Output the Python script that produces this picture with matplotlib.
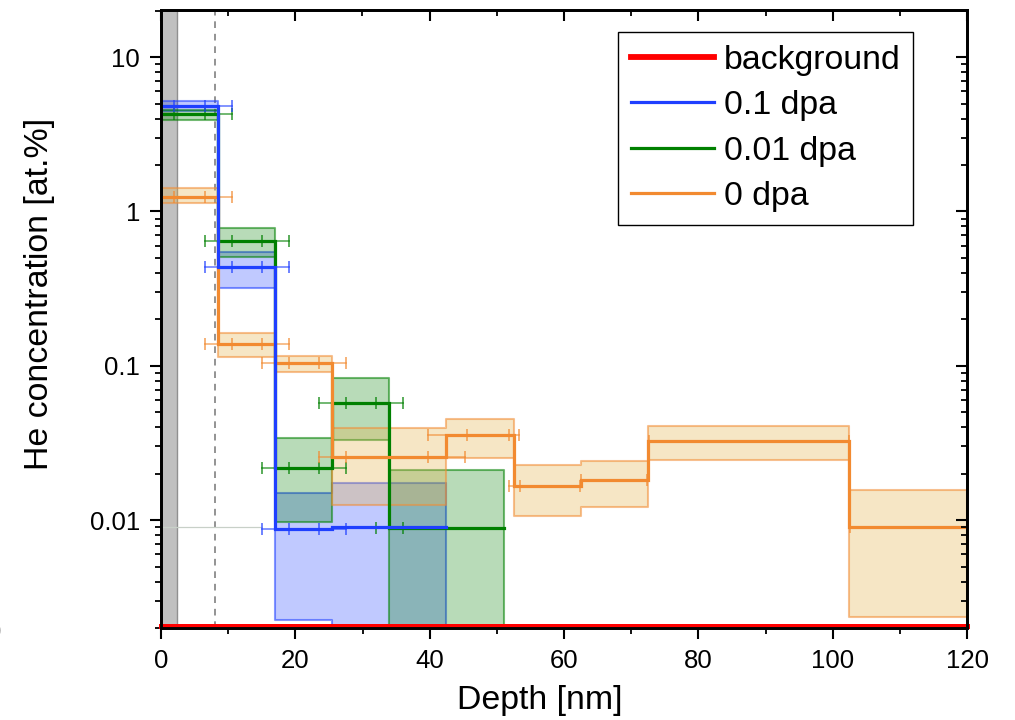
import matplotlib
matplotlib.use("Agg")
import matplotlib.pyplot as plt
from matplotlib.ticker import FixedLocator, FixedFormatter, LogLocator, NullFormatter, MultipleLocator
from matplotlib.lines import Line2D
import numpy as np

plt.rcParams['font.family'] = ['Liberation Sans', 'DejaVu Sans']

# ---------------- data ----------------
# 0.1 dpa (blue)
edges_b = [0, 8.5, 17, 25.5, 42.5]
val_b = [4.85, 0.438, 0.0087, 0.0090]
lo_b = [4.49, 0.320, 0.00225, 0.0015]
hi_b = [5.18, 0.547, 0.0150, 0.0175]

# 0.01 dpa (green)
edges_g = [0, 8.5, 17, 25.5, 34, 51]
val_g = [4.27, 0.642, 0.0219, 0.0578, 0.00895]
lo_g = [3.91, 0.508, 0.0097, 0.033, 0.0015]
hi_g = [4.55, 0.776, 0.0341, 0.0835, 0.021]

# 0 dpa (orange)
edges_o = [0, 8.5, 17, 25.5, 42.5, 52.5, 62.5, 72.5, 102.5, 120]
val_o = [1.25, 0.138, 0.1035, 0.0257, 0.0355, 0.0166, 0.0181, 0.0328, 0.0090]
lo_o = [1.14, 0.114, 0.0913, 0.0125, 0.0251, 0.01064, 0.0122, 0.0247, 0.00236]
hi_o = [1.41, 0.162, 0.116, 0.0393, 0.0455, 0.0227, 0.0240, 0.0410, 0.0156]

# horizontal depth-resolution bars: (concentration, cap positions)
err_b = [(4.85, [-2, 2.0, 6.5, 10.5]),
         (0.438, [6.5, 10.5, 15.0, 19.0]),
         (0.0087, [15.0, 19.0, 23.5, 27.5])]
err_g = [(4.27, [-2, 2.0, 6.5, 10.5]),
         (0.642, [6.5, 10.5, 15.0, 19.0]),
         (0.0219, [15.0, 19.0, 23.5, 27.5]),
         (0.0578, [23.5, 27.5, 32.0, 36.0]),
         (0.00895, [32.0, 36.0])]
err_o = [(1.25, [-2, 2.0, 6.5, 10.5]),
         (0.138, [6.5, 10.5, 15.0, 19.0]),
         (0.1035, [15.0, 19.0, 23.5, 27.5]),
         (0.0257, [23.5, 27.6, 39.8, 45.3]),
         (0.0355, [39.8, 45.5, 51.8, 53.3]),
         (0.0166, [51.8, 53.4, 62.4]),
         (0.0181, [62.6, 72.4]),
         (0.0328, [72.6, 102.4]),
         (0.0090, [102.6])]

background_level = 0.00205
oxide_depth = 2.4
marker_depth = 8.0
detect_level = 0.009
detect_end = 15.0

xticks = [0, 20, 40, 60, 80, 100, 120]
yticks = [0.01, 0.1, 1, 10]
yticklabels = ['0.01', '0.1', '1', '10']
labels = ['background', '0.1 dpa', '0.01 dpa', '0 dpa']

C_B = '#1f3fff'
C_G = '#008000'
C_O = '#f28a30'
C_R = '#ff0000'
FS = 24.4

# ---------------- figure ----------------
fig = plt.figure(figsize=(10.15, 7.2), dpi=100)
ax = fig.add_axes([161/1015, 1-628/720, (967-161)/1015, (628-10)/720])
ax.set_yscale('log')
ax.set_xlim(0, 120)
ax.set_ylim(0.002, 20.2)

ax.axvspan(0, oxide_depth, facecolor='#c0c0c0', edgecolor='#909090', lw=1.0, zorder=0.5)
ax.axvline(marker_depth, color='#808080', lw=1.2, ls=(0, (4, 3.5)), zorder=0.6)
ax.hlines(detect_level, 0, detect_end, color='#c8d0c8', lw=0.9, zorder=0.7)


def band(edges, lo, hi, color, alpha, ec, z):
    lo2 = list(lo) + [lo[-1]]
    hi2 = list(hi) + [hi[-1]]
    ax.fill_between(edges, lo2, hi2, step='post', facecolor=color, alpha=alpha,
                    edgecolor='none', zorder=z)
    ax.fill_between(edges, lo2, hi2, step='post', facecolor='none',
                    edgecolor=ec, lw=1.5, zorder=z)


band(edges_b, lo_b, hi_b, '#1f3fff', 0.28, (0.12, 0.25, 1.0, 0.55), 1.0)
band(edges_g, lo_g, hi_g, '#008000', 0.28, (0.0, 0.5, 0.0, 0.55), 1.1)
band(edges_o, lo_o, hi_o, '#e6b450', 0.33, (0.95, 0.55, 0.2, 0.55), 1.2)


def steps(edges, vals, color, z):
    v2 = list(vals) + [vals[-1]]
    ax.step(edges, v2, where='post', color=color, lw=2.3, zorder=z, solid_joinstyle='miter')


def errs(data, color, z):
    for y, xs in data:
        ax.plot([min(xs), max(xs)], [y, y], color=color, lw=1.3, alpha=0.6, zorder=z)
        ax.plot(xs, [y] * len(xs), ls='none', marker='|', ms=9, mew=1.3,
                color=color, alpha=0.7, zorder=z)


errs(err_g, C_G, 2.0)
errs(err_o, C_O, 2.1)
errs(err_b, C_B, 2.2)
steps(edges_g, val_g, C_G, 3.0)
steps(edges_o, val_o, C_O, 3.1)
steps(edges_b, val_b, C_B, 3.2)

ax.plot([0, 120], [background_level] * 2, color=C_R, lw=3.6, zorder=3.5, clip_on=False)

handles = [Line2D([], [], color=C_R, lw=4.2),
           Line2D([], [], color=C_B, lw=2.3),
           Line2D([], [], color=C_G, lw=2.3),
           Line2D([], [], color=C_O, lw=2.3)]
leg = ax.legend(handles, labels, loc='upper right',
                bbox_to_anchor=((913-161)/806, 1-(32-10)/618),
                fontsize=FS, frameon=True, fancybox=False, framealpha=1,
                edgecolor='black', handlelength=2.45, handletextpad=0.3,
                borderpad=0.37, labelspacing=0.43, borderaxespad=0)
leg.get_frame().set_linewidth(1.0)
leg.set_zorder(10)

# axes styling
for s in ax.spines.values():
    s.set_linewidth(1.8)
ax.xaxis.set_major_locator(FixedLocator(xticks))
ax.xaxis.set_minor_locator(MultipleLocator(10))
ax.yaxis.set_major_locator(FixedLocator(yticks))
ax.yaxis.set_major_formatter(FixedFormatter(yticklabels))
ax.yaxis.set_minor_locator(LogLocator(base=10, subs=np.arange(2, 10)))
ax.yaxis.set_minor_formatter(NullFormatter())
ax.tick_params(which='major', direction='out', length=8, width=1.5, labelsize=18.5, pad=7)
ax.tick_params(which='minor', direction='out', length=4, width=1.3)

ax2 = ax.twinx()
ax2.set_yscale('log')
ax2.set_ylim(ax.get_ylim())
ax2.yaxis.set_major_locator(FixedLocator(yticks))
ax2.yaxis.set_minor_locator(LogLocator(base=10, subs=np.arange(2, 10)))
ax2.yaxis.set_major_formatter(NullFormatter())
ax2.yaxis.set_minor_formatter(NullFormatter())
ax2.tick_params(which='major', direction='in', length=8, width=1.5)
ax2.tick_params(which='minor', direction='in', length=4, width=1.3)

ax3 = ax.twiny()
ax3.set_xlim(ax.get_xlim())
ax3.xaxis.set_major_locator(FixedLocator(xticks))
ax3.xaxis.set_minor_locator(MultipleLocator(10))
ax3.xaxis.set_major_formatter(NullFormatter())
ax3.tick_params(which='major', direction='in', length=8, width=1.5)
ax3.tick_params(which='minor', direction='in', length=4, width=1.3)
for a in (ax2, ax3):
    for s in a.spines.values():
        s.set_linewidth(1.8)

ax.set_xlabel('Depth [nm]', fontsize=FS)
ax.xaxis.set_label_coords((540-161)/806, -0.092)
ax.set_ylabel('He concentration [at.%]', fontsize=FS)
ax.yaxis.set_label_coords(-0.132, (628-294)/618)

fig.text(3/1015, 1-630/720, '(b)', fontsize=FS, ha='right', va='center')

fig.savefig('out.png', dpi=100)
